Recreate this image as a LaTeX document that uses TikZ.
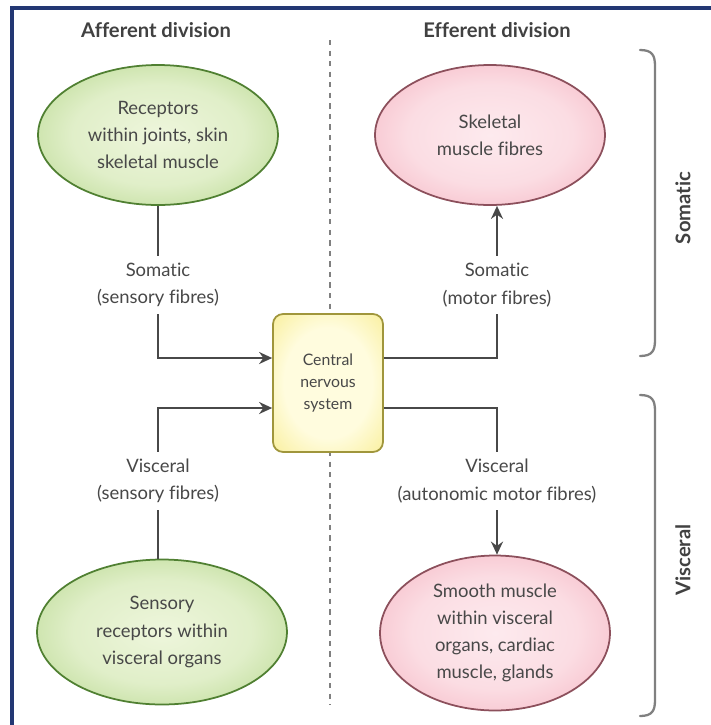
\documentclass[tikz,border=0pt]{standalone}
\usepackage{fontspec}
\setmainfont{Lato}[Ligatures=NoCommon]
\usetikzlibrary{arrows.meta, positioning, shapes.geometric}
\definecolor{framenavy}{RGB}{35,55,115}
\definecolor{leafgreen}{RGB}{146,196,90}
\definecolor{palegreen}{RGB}{238,246,220}
\definecolor{darkgreen}{RGB}{80,128,50}
\definecolor{rosepink}{RGB}{240,146,165}
\definecolor{palepink}{RGB}{253,234,238}
\definecolor{darkrose}{RGB}{140,80,92}
\definecolor{cnsyellow}{RGB}{244,228,100}
\definecolor{paleyellow}{RGB}{255,252,222}
\definecolor{olivedrab}{RGB}{160,150,60}
\definecolor{inkgray}{RGB}{72,72,72}
\pgfdeclareradialshading{greenglow}{\pgfpoint{0bp}{0bp}}{color(0bp)=(palegreen); color(18bp)=(palegreen!85!leafgreen); color(50bp)=(leafgreen); color(100bp)=(leafgreen)}
\pgfdeclareradialshading{pinkglow}{\pgfpoint{0bp}{0bp}}{color(0bp)=(palepink); color(18bp)=(palepink!85!rosepink); color(50bp)=(rosepink); color(100bp)=(rosepink)}
\pgfdeclareradialshading{yellowglow}{\pgfpoint{0bp}{0bp}}{color(0bp)=(paleyellow); color(20bp)=(paleyellow); color(50bp)=(cnsyellow); color(100bp)=(cnsyellow)}

\begin{document}
\begin{tikzpicture}[
    x=0.02cm, y=-0.02cm,
    txt/.style={font=\fontsize{10.5}{15.5}\selectfont, text=inkgray, align=center},
    aff/.style={ellipse, txt, draw=darkgreen, line width=1pt, shading=greenglow, inner sep=0pt},
    eff/.style={ellipse, txt, draw=darkrose, line width=1pt, shading=pinkglow, inner sep=0pt},
    cnsbox/.style={rectangle, rounded corners=0.2cm, draw=olivedrab, line width=1pt, shading=yellowglow, minimum width=2.2cm, minimum height=2.76cm, align=center, text=inkgray, font=\fontsize{9}{12.5}\selectfont},
    lbl/.style={txt, fill=white, inner sep=4pt},
    head/.style={font=\bfseries\fontsize{11.5}{13}\selectfont, text=inkgray!90!black},
    conn/.style={draw=inkgray, line width=1.2pt},
    arr/.style={conn, -{Stealth[length=2.6mm, width=2.4mm]}},
    brace/.style={draw=gray, line width=1.3pt, line cap=round},
]
\useasboundingbox (0,0) rectangle (711,725);
% frame
\draw[framenavy, line width=0.08cm] (12,760) -- (12,8) -- (760,8);

% headings and divider
\node[head] (afferent) at (156,30) {Afferent division};
\node[head] (efferent) at (497,30) {Efferent division};
\draw[gray, line width=0.8pt, dash pattern=on 3pt off 3pt] (330,40) -- (330,705);

% central box
\node[cnsbox] (cns) at (328,383) {Central\\nervous\\system};

% afferent side
\node[aff, minimum width=4.8cm, minimum height=2.8cm] (joint) at (158,135) {Receptors\\within joints, skin\\skeletal muscle};
\node[aff, minimum width=5cm, minimum height=2.9cm] (visrec) at (162,632) {Sensory\\receptors within\\visceral organs};

% efferent side
\node[eff, minimum width=4.6cm, minimum height=2.8cm] (skeletal) at (490,135) {Skeletal\\muscle fibres};
\node[eff, minimum width=4.6cm, minimum height=3.1cm] (smooth) at (495,633) {Smooth muscle\\within visceral\\organs, cardiac\\muscle, glands};

% fibre labels
\node[lbl] (somsens) at (158,285) {Somatic\\(sensory fibres)};
\node[lbl] (vissens) at (158,481) {Visceral\\(sensory fibres)};
\node[lbl] (sommot) at (497,285) {Somatic\\(motor fibres)};
\node[lbl] (vismot) at (497,481) {Visceral\\(autonomic motor fibres)};

% connectors
\draw[conn] (joint.south) -- (somsens);
\draw[arr] (somsens) |- ([yshift=0.5cm]cns.west);
\draw[conn] (vissens |- visrec.north) -- (vissens);
\draw[arr] (vissens) |- ([yshift=-0.5cm]cns.west);
\draw[conn] ([yshift=0.5cm]cns.east) -| (sommot);
\draw[arr] (sommot) -- (sommot |- skeletal.south);
\draw[conn] ([yshift=-0.5cm]cns.east) -| (vismot);
\draw[arr] (vismot) -- (vismot |- smooth.north);

% braces
\draw[brace] (640,50) .. controls (652,50) and (655,55) .. (655,66) -- (655,340) .. controls (655,351) and (652,356) .. (640,356);
\draw[brace] (640,395) .. controls (652,395) and (655,400) .. (655,411) -- (655,700) .. controls (655,711) and (652,716) .. (640,716);
\node[head, rotate=90] (somatic) at (683,208) {Somatic};
\node[head, rotate=90] (visceral) at (683,560) {Visceral};
\end{tikzpicture}
\end{document}
